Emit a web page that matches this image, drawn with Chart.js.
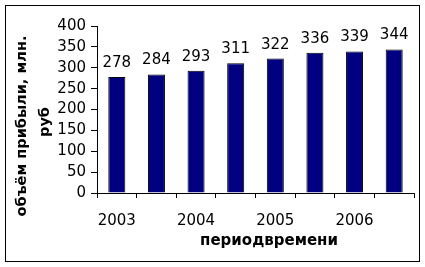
<!DOCTYPE html>
<html>
<head>
<meta charset="utf-8">
<script src="https://cdn.jsdelivr.net/npm/chart.js@4.4.0/dist/chart.umd.min.js"></script>
<style>
    html, body { margin: 0; padding: 0; background: #fff; }
</style>
</head>
<body>
<canvas id="myChart" width="425" height="267"></canvas>
<script>
// values
var periods = ['2003 I', '2003 II', '2004 I', '2004 II', '2005 I', '2005 II', '2006 I', '2006 II'];
var tickLabels = ['2003', '', '2004', '', '2005', '', '2006', ''];
var profit = [278, 284, 293, 311, 322, 336, 339, 344];
var yTitle = ['объём прибыли, млн.', 'руб'];
var xTitle = 'периодвремени';

var font = '"DejaVu Sans", Verdana, sans-serif';

// value labels, axis titles and the outer frame
var extras = {
    id: 'extras',
    afterDraw: function (chart) {
        var ctx = chart.ctx;
        ctx.save();
        ctx.fillStyle = '#000';
        ctx.font = '15px ' + font;
        ctx.textAlign = 'center';
        ctx.textBaseline = 'alphabetic';
        chart.getDatasetMeta(0).data.forEach(function (bar, i) {
            ctx.fillText(profit[i], bar.x, bar.y - 10);
        });

        ctx.font = 'bold 14.5px ' + font;
        ctx.textBaseline = 'middle';
        ctx.save();
        ctx.translate(22, 126);
        ctx.rotate(-Math.PI / 2);
        ctx.fillText(yTitle[0], 0, 0);
        ctx.restore();
        ctx.save();
        ctx.translate(45, 122);
        ctx.rotate(-Math.PI / 2);
        ctx.fillText(yTitle[1], 0, 0);
        ctx.restore();
        ctx.font = 'bold 15px ' + font;
        ctx.fillText(xTitle, 269, 241);

        ctx.strokeStyle = '#000';
        ctx.lineWidth = 1;
        ctx.strokeRect(5.5, 5.5, 414, 256);
        ctx.restore();
    }
};

new Chart(document.getElementById('myChart'), {
    type: 'bar',
    data: {
        labels: tickLabels,
        datasets: [{
            label: 'объём прибыли',
            data: profit,
            backgroundColor: '#000080',
            borderColor: '#000',
            borderWidth: 1,
            barPercentage: 0.43,
            categoryPercentage: 1
        }]
    },
    options: {
        responsive: false,
        animation: false,
        layout: {padding: {left: 0, right: 11, top: 26, bottom: 0}},
        plugins: {
            legend: {display: false},
            tooltip: {enabled: false}
        },
        scales: {
            x: {
                grid: {drawOnChartArea: false, tickLength: 5, tickColor: '#000', offset: true},
                border: {color: '#000', width: 1},
                ticks: {
                    color: '#000', font: {family: font, size: 15},
                    autoSkip: false, maxRotation: 0, padding: 14
                },
                afterFit: function (scale) { scale.height = 74; }
            },
            y: {
                min: 0,
                max: 400,
                grid: {drawOnChartArea: false, tickLength: 6, tickColor: '#000'},
                border: {color: '#000', width: 1},
                ticks: {
                    stepSize: 50, autoSkip: false, color: '#000',
                    font: {family: font, size: 15}, padding: 5
                },
                afterFit: function (scale) { scale.width = 97; }
            }
        }
    },
    plugins: [extras]
});
</script>
</body>
</html>
